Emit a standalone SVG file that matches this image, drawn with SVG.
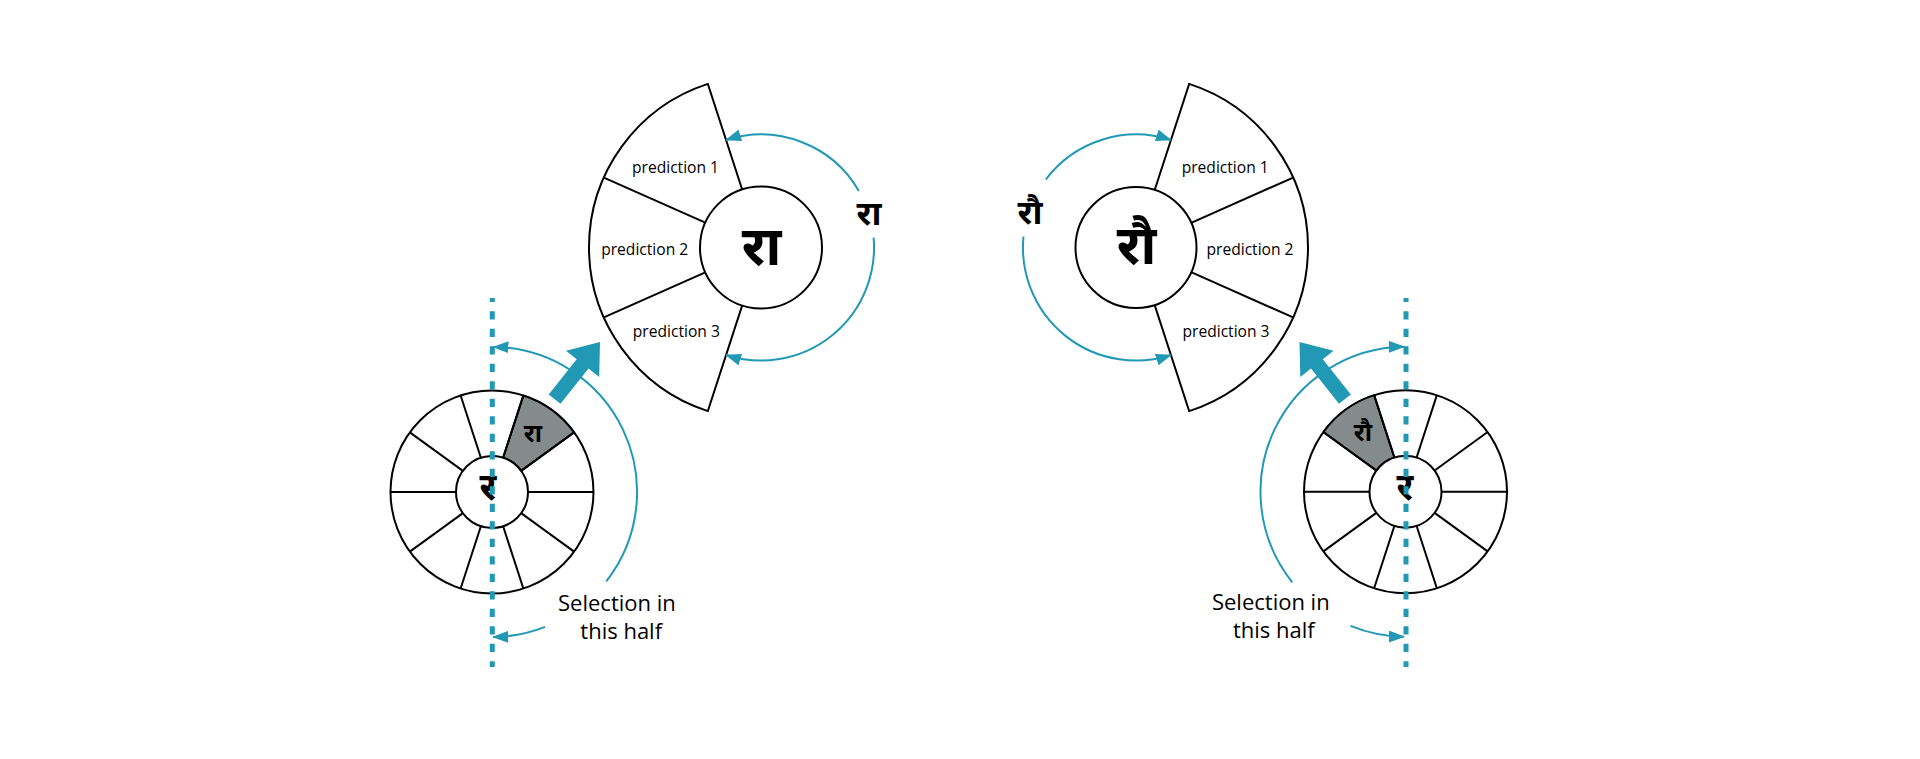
<svg xmlns="http://www.w3.org/2000/svg" xmlns:xlink="http://www.w3.org/1999/xlink" width="1920" height="759" viewBox="0 0 1920 759">
<style>
.ln{fill:none;stroke:#000;stroke-width:2}
.wf{fill:#fff;stroke:#000;stroke-width:2}
.seg{fill:#858b8b;stroke:#000;stroke-width:2}
.arc{fill:none;stroke:#2199b5;stroke-width:2;marker-end:url(#ah)}
.dot{fill:none;stroke:#2199b5;stroke-width:5;stroke-dasharray:8.3 9.2;stroke-dashoffset:4.3}
.big{fill:#2199b5}
.lat{font-family:'Open Sans','Liberation Sans',sans-serif;fill:#000;text-anchor:middle}
.pr{font-size:15.6px}
.sel{font-size:22px}
.dev{font-family:'Noto Sans Devanagari','Lohit Devanagari','Noto Sans',sans-serif;font-weight:bold;fill:#000;text-anchor:middle}
</style>
<defs>
<marker id="ah" markerUnits="userSpaceOnUse" markerWidth="16" markerHeight="12" refX="15" refY="6" orient="auto" viewBox="0 0 16 12">
<path d="M0,0 L16,6 L0,12 z" fill="#2199b5"/>
</marker>
<line id="spoke" x1="36" y1="0" x2="101.5" y2="0" class="ln"/>
</defs>
<rect width="1920" height="759" fill="#fff"/>

<g id="wheel-left">
<circle cx="492" cy="492" r="101.5" class="wf"/>
<path class="seg" d="M503.12,457.76 L523.36,395.46 A101.5,101.5 0 0 1 574.11,432.34 L521.12,470.84 A36,36 0 0 0 503.12,457.76 Z"/>
<g transform="translate(492,492)">
<use xlink:href="#spoke"/>
<use xlink:href="#spoke" transform="rotate(36)"/>
<use xlink:href="#spoke" transform="rotate(72)"/>
<use xlink:href="#spoke" transform="rotate(108)"/>
<use xlink:href="#spoke" transform="rotate(144)"/>
<use xlink:href="#spoke" transform="rotate(180)"/>
<use xlink:href="#spoke" transform="rotate(216)"/>
<use xlink:href="#spoke" transform="rotate(252)"/>
<use xlink:href="#spoke" transform="rotate(288)"/>
<use xlink:href="#spoke" transform="rotate(324)"/>
</g>
<circle cx="492" cy="492" r="36" class="wf"/>
<text class="dev" x="488" y="500" font-size="38">र</text>
<text class="dev" x="533" y="441.5" font-size="25">रा</text>
</g>

<g id="fan-left">
<path class="wf" d="M742.15,189.49 L707.85,83.92 A172,172 0 0 0 707.85,411.08 L742.15,305.51 Z"/>
<line class="ln" x1="705.28" y1="222.69" x2="603.87" y2="177.54"/>
<line class="ln" x1="705.28" y1="272.31" x2="603.87" y2="317.46"/>
<circle cx="761" cy="247.5" r="61" class="wf"/>
<text class="dev" x="761.5" y="265" font-size="54">रा</text>
<text class="lat pr" x="675.5" y="172.5">prediction 1</text>
<text class="lat pr" x="644.7" y="255">prediction 2</text>
<text class="lat pr" x="676.3" y="336.5">prediction 3</text>
</g>

<g id="fan-right">
<path class="wf" d="M1154.85,189.49 L1189.15,83.92 A172,172 0 0 1 1189.15,411.08 L1154.85,305.51 Z"/>
<line class="ln" x1="1191.72" y1="222.69" x2="1293.13" y2="177.54"/>
<line class="ln" x1="1191.72" y1="272.31" x2="1293.13" y2="317.46"/>
<circle cx="1136" cy="247.5" r="60.5" class="wf"/>
<text class="dev" x="1136.5" y="264" font-size="54">रौ</text>
<text class="lat pr" x="1225.2" y="172.5">prediction 1</text>
<text class="lat pr" x="1250" y="255">prediction 2</text>
<text class="lat pr" x="1226" y="336.5">prediction 3</text>
</g>

<g id="wheel-right">
<circle cx="1405.5" cy="491.7" r="101.5" class="wf"/>
<path class="seg" d="M1394.38,457.46 L1374.14,395.16 A101.5,101.5 0 0 0 1323.39,432.04 L1376.38,470.54 A36,36 0 0 1 1394.38,457.46 Z"/>
<g transform="translate(1405.5,491.7)">
<use xlink:href="#spoke"/>
<use xlink:href="#spoke" transform="rotate(36)"/>
<use xlink:href="#spoke" transform="rotate(72)"/>
<use xlink:href="#spoke" transform="rotate(108)"/>
<use xlink:href="#spoke" transform="rotate(144)"/>
<use xlink:href="#spoke" transform="rotate(180)"/>
<use xlink:href="#spoke" transform="rotate(216)"/>
<use xlink:href="#spoke" transform="rotate(252)"/>
<use xlink:href="#spoke" transform="rotate(288)"/>
<use xlink:href="#spoke" transform="rotate(324)"/>
</g>
<circle cx="1405.5" cy="491.7" r="36" class="wf"/>
<text class="dev" x="1405" y="499.7" font-size="38">र</text>
<text class="dev" x="1363" y="441" font-size="25">रौ</text>
</g>

<g id="labels">
<text class="dev" x="869" y="225" font-size="34">रा</text>
<text class="dev" x="1030" y="224" font-size="34">रौ</text>
<text class="lat sel" x="616.9" y="610.7">Selection in</text>
<text class="lat sel" x="621.2" y="639.3">this half</text>
<text class="lat sel" x="1270.8" y="610">Selection in</text>
<text class="lat sel" x="1273.8" y="638.3">this half</text>
</g>

<g id="connectors">
<path class="arc" d="M858.9,191 A113,113 0 0 0 726.1,140"/>
<path class="arc" d="M873.6,237.7 A113,113 0 0 1 726.1,355"/>
<path class="arc" d="M1045.8,179.5 A113,113 0 0 1 1170.9,140"/>
<path class="arc" d="M1023.5,236.5 A113,113 0 0 0 1170.9,355"/>
<path class="arc" d="M606.3,581.3 A145,145 0 0 0 493.5,347"/>
<path class="arc" d="M545.1,626.9 A145,145 0 0 1 493.2,637"/>
<path class="arc" d="M1292.3,582.3 A145,145 0 0 1 1404,346.7"/>
<path class="arc" d="M1350.5,625.9 A145,145 0 0 0 1404,636.7"/>
<polygon class="big" points="548.7,394.4 576.7,359.2 566,350.7 600,342 599.2,377.1 588.5,368.6 560.5,403.8"/>
<polygon class="big" points="1350.8,394.4 1322.8,359.2 1333.5,350.7 1299.5,342 1300.3,377.1 1311,368.6 1339,403.8"/>
<line class="dot" x1="492.3" y1="298" x2="492.3" y2="667"/>
<line class="dot" x1="1406" y1="298" x2="1406" y2="667"/>
</g>
</svg>
